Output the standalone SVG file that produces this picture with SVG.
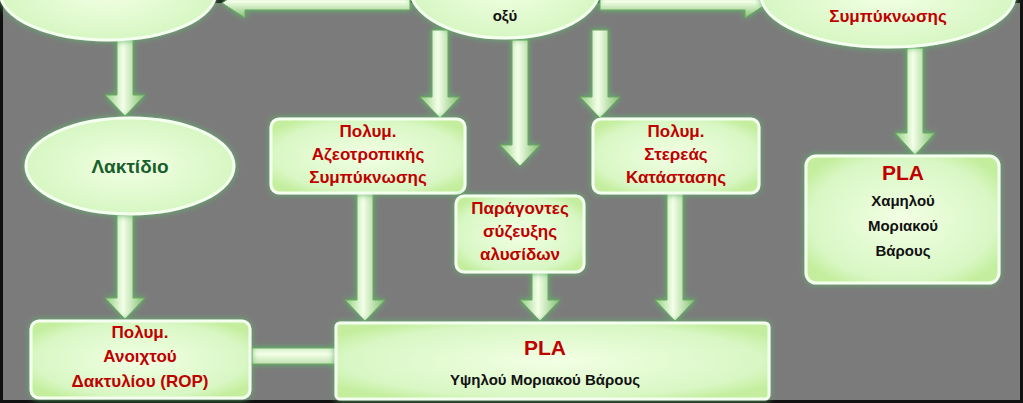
<svg xmlns="http://www.w3.org/2000/svg" width="1023" height="403" viewBox="0 0 1023 403">
<defs>
<linearGradient id="gv" x1="0" y1="0" x2="1" y2="0"><stop offset="0" stop-color="#8fcf7f"/><stop offset="0.45" stop-color="#f4ffe8"/><stop offset="1" stop-color="#7fbf6f"/></linearGradient>
<linearGradient id="gh" x1="0" y1="0" x2="0" y2="1"><stop offset="0" stop-color="#8fcf7f"/><stop offset="0.45" stop-color="#f4ffe8"/><stop offset="1" stop-color="#7fbf6f"/></linearGradient>
<radialGradient id="gn" cx="0.5" cy="0.5" r="0.6"><stop offset="0" stop-color="#f2ffe4"/><stop offset="0.8" stop-color="#d8f7c4"/><stop offset="1" stop-color="#c4ee9e"/></radialGradient>
<filter id="glow" x="-30%" y="-30%" width="160%" height="160%"><feGaussianBlur in="SourceAlpha" stdDeviation="4"/><feFlood flood-color="#5fb86a"/><feComposite operator="in" in2="SourceAlpha"/><feGaussianBlur stdDeviation="3"/><feMerge><feMergeNode/><feMergeNode in="SourceGraphic"/></feMerge></filter>
</defs>
<style>
.n{fill:url(#gn);stroke:#f4fff0;stroke-width:3;filter:url(#glow)}
.av{fill:url(#gv);stroke:#6aa860;stroke-width:1;filter:url(#glow)}
.ah{fill:url(#gh);stroke:#6aa860;stroke-width:1;filter:url(#glow)}
text{font-family:"Liberation Sans",Arial,sans-serif;font-weight:bold;text-anchor:middle}
.r{fill:#c00000;font-size:17px}
.k{fill:#111;font-size:15px}
.g{fill:#17602c;font-size:19px}
.p{fill:#c00000;font-size:21px}
</style>
<rect x="0" y="0" width="1023" height="403" fill="#7b7b7b"/>
<rect x="1.5" y="1.5" width="1020" height="400" fill="none" stroke="#111" stroke-width="3"/>
<g id="connectors">
<polygon class="ah" points="410,-4 245,-4 245,-12 222,3 245,18 245,10 410,10"/>
<polygon class="ah" points="600,-4 745,-4 745,-12 768,3 745,18 745,10 600,10"/>
<polygon class="av" points="117,40 133,40 133,95 145,95 125,116 105,95 117,95"/>
<polygon class="av" points="117,215 133,215 133,298 145,298 125,319 105,298 117,298"/>
<polygon class="av" points="432,30 448,30 448,97 460,97 440,118 420,97 432,97"/>
<polygon class="av" points="512,40 528,40 528,145 540,145 520,166 500,145 512,145"/>
<polygon class="av" points="592,30 608,30 608,97 620,97 600,118 580,97 592,97"/>
<polygon class="av" points="907,48 923,48 923,133 935,133 915,155 895,133 907,133"/>
<polygon class="av" points="357,193 373,193 373,300 385,300 365,321 345,300 357,300"/>
<polygon class="av" points="532,272 548,272 548,300 560,300 540,321 520,300 532,300"/>
<polygon class="av" points="667,193 683,193 683,300 695,300 675,321 655,300 667,300"/>
<polygon class="ah" points="252,348 342,348 342,336 366,356 342,376 342,364 252,364"/>
</g>
<g id="top-left"><ellipse class="n" cx="108" cy="-8" rx="108" ry="48"/></g>
<g id="top-center"><ellipse class="n" cx="505" cy="-12" rx="95" ry="50"/><text class="k" x="505" y="21" font-size="17">οξύ</text></g>
<g id="top-right"><ellipse class="n" cx="888" cy="-5" rx="127" ry="52"/><text class="r" x="888" y="22">Συμπύκνωσης</text></g>
<g id="lactide"><ellipse class="n" cx="130" cy="166" rx="104" ry="48"/><text class="g" x="130" y="173">Λακτίδιο</text></g>
<g id="azeo"><rect class="n" x="271" y="119" width="194" height="74" rx="8"/><text class="r" x="368" y="137">Πολυμ.</text><text class="r" x="368" y="160">Αζεοτροπικής</text><text class="r" x="368" y="183">Συμπύκνωσης</text></g>
<g id="solid"><rect class="n" x="593" y="119" width="166" height="74" rx="8"/><text class="r" x="676" y="137">Πολυμ.</text><text class="r" x="676" y="160">Στερεάς</text><text class="r" x="676" y="183">Κατάστασης</text></g>
<g id="chain"><rect class="n" x="456" y="196" width="128" height="76" rx="8"/><text class="r" x="520" y="214">Παράγοντες</text><text class="r" x="520" y="237">σύζευξης</text><text class="r" x="520" y="260">αλυσίδων</text></g>
<g id="rop"><rect class="n" x="31" y="321" width="219" height="77" rx="8"/><text class="r" x="140" y="338">Πολυμ.</text><text class="r" x="140" y="362">Ανοιχτού</text><text class="r" x="140" y="387">Δακτυλίου (ROP)</text></g>
<g id="pla-high"><rect class="n" x="336" y="323" width="433" height="76" rx="4"/><text class="p" x="545" y="355">PLA</text><text class="k" x="545" y="385" font-size="17">Υψηλού Μοριακού Βάρους</text></g>
<g id="pla-low"><rect class="n" x="806" y="156" width="193" height="127" rx="10"/><text class="p" x="903" y="180">PLA</text><text class="k" x="903" y="206">Χαμηλού</text><text class="k" x="903" y="231">Μοριακού</text><text class="k" x="903" y="256">Βάρους</text></g>
</svg>
